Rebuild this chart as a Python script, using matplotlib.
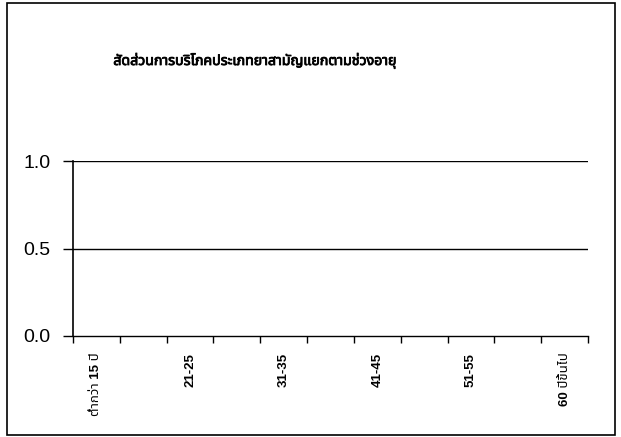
import numpy as np
import matplotlib
matplotlib.use("Agg")
import matplotlib.pyplot as plt
import matplotlib.patheffects as pe
from matplotlib.patches import Rectangle

# -----------------------------
# data: age groups, shares (chart shows no bars -> all zero)
# -----------------------------
title = "สัดส่วนการบริโภคประเภทยาสามัญแยกตามช่วงอายุ"

age_groups = ["ต่ำกว่า 15 ปี", "15-20", "21-25", "26-30", "31-35", "36-40",
              "41-45", "46-50", "51-55", "56-60", "60 ปีขึ้นไป"]
shares = [0, 0, 0, 0, 0, 0, 0, 0, 0, 0, 0]

y_ticks = [0.0, 0.5, 1.0]

fonts = ["Liberation Sans", "Noto Sans Thai", "DejaVu Sans"]
plt.rcParams["font.family"] = fonts

fig = plt.figure(figsize=(6.21, 4.37), dpi=100)
W, H = 621, 437

# axes box in pixels: left 73, right 588, top 161, bottom 336
ax = fig.add_axes([73 / W, 1 - 336 / H, (588 - 73) / W, (336 - 161) / H])

x = np.arange(len(age_groups))
ax.bar(x, shares, width=0.6, color="#808080")

ax.set_xlim(-0.5, len(age_groups) - 0.5)
ax.set_ylim(0, 1.0)

# y axis
ax.set_yticks(y_ticks)
ax.set_yticklabels(["%.1f" % v for v in y_ticks], fontsize=14)
ax.tick_params(axis="y", direction="out", length=7, width=1, pad=9, colors="black")
for v in y_ticks[1:]:
    ax.axhline(v, color="black", lw=1, zorder=0)

# x axis: tick marks between categories, every other label shown
ax.set_xticks(x)
ax.set_xticklabels([lab if i % 2 == 0 else "" for i, lab in enumerate(age_groups)],
                   rotation=90, fontsize=9.5, fontweight="bold", va="top", ha="center")
ax.set_xticks(np.arange(-0.5, len(age_groups), 1), minor=True)
ax.tick_params(axis="x", which="major", length=0, pad=12)
ax.tick_params(axis="x", which="minor", direction="out", length=5, width=1)

for s in ["top", "right"]:
    ax.spines[s].set_visible(False)
ax.spines["left"].set_linewidth(1.2)
ax.spines["bottom"].set_linewidth(1)

# thai font has no bold face here, thicken the title with a stroke
fig.text(254 / W, 1 - 61 / H, title, fontsize=10.2,
         ha="center", va="center",
         path_effects=[pe.withStroke(linewidth=0.6, foreground="black")])

# outer frame of the chart
fig.patches.append(Rectangle((7 / W, 2 / H), 608 / W, 432 / H,
                             transform=fig.transFigure, fill=False,
                             edgecolor="black", lw=1.2))

fig.savefig("out.png", dpi=100)
